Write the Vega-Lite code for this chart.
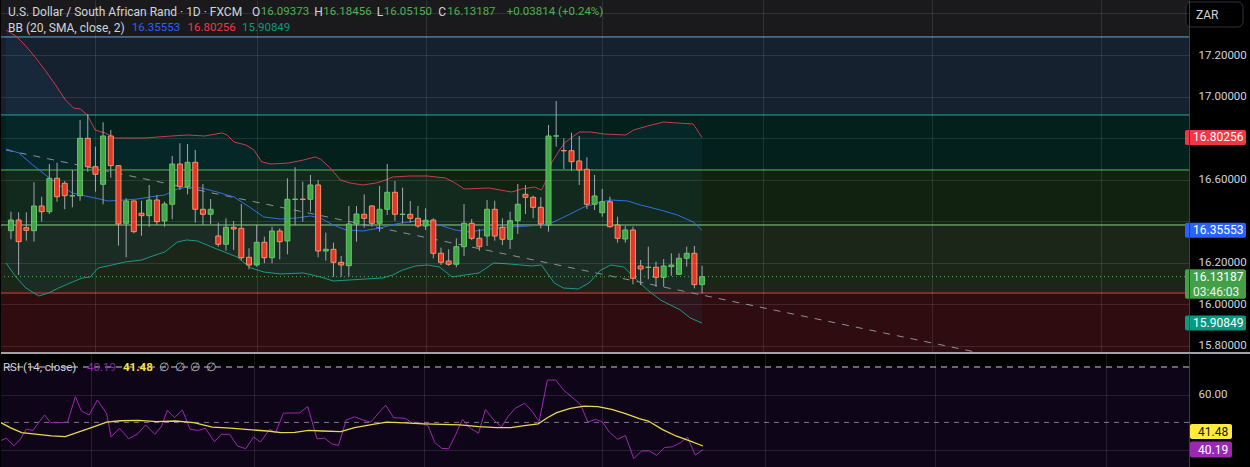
{
  "$schema": "https://vega.github.io/schema/vega-lite/v6.json",
  "background": "#000000",
  "padding": 0,
  "spacing": 0,
  "config": {
    "view": {"stroke": null},
    "axis": {"gridColor": "#ffffff", "gridOpacity": 0.1, "domainColor": "#3a3e48", "labelColor": "#d1d4dc", "labelFont": "Roboto", "labelFontSize": 11.5, "ticks": false},
    "text": {"font": "Roboto", "fontSize": 11.5}
  },
  "datasets": {
    "candles": [
      {"t":0,"open":16.3535,"high":16.4450,"low":16.3121,"close":16.4050},
      {"t":1,"open":16.4050,"high":16.4421,"low":16.1400,"close":16.3005},
      {"t":2,"open":16.3679,"high":16.4421,"low":16.3053,"close":16.3554},
      {"t":3,"open":16.3535,"high":16.5867,"low":16.3005,"close":16.4725},
      {"t":4,"open":16.4725,"high":16.5173,"low":16.3968,"close":16.4450},
      {"t":5,"open":16.4450,"high":16.6748,"low":16.4339,"close":16.6060},
      {"t":6,"open":16.6060,"high":16.6811,"low":16.4932,"close":16.5173},
      {"t":7,"open":16.5819,"high":16.5929,"low":16.4566,"close":16.5221},
      {"t":8,"open":16.5205,"high":16.6459,"low":16.4662,"close":16.5221},
      {"t":9,"open":16.5221,"high":16.8868,"low":16.4980,"close":16.7987},
      {"t":10,"open":16.7987,"high":16.9157,"low":16.6377,"close":16.6618},
      {"t":11,"open":16.6618,"high":16.7582,"low":16.5414,"close":16.6252},
      {"t":12,"open":16.5770,"high":16.8758,"low":16.4807,"close":16.8098},
      {"t":13,"open":16.8098,"high":16.8387,"low":16.6088,"close":16.6667},
      {"t":14,"open":16.6667,"high":16.6690,"low":16.2812,"close":16.3858},
      {"t":15,"open":16.3891,"high":16.5096,"low":16.2253,"close":16.4966},
      {"t":16,"open":16.4966,"high":16.5000,"low":16.3409,"close":16.3487},
      {"t":17,"open":16.4373,"high":16.4980,"low":16.3294,"close":16.4258},
      {"t":18,"open":16.4258,"high":16.5737,"low":16.3728,"close":16.5014},
      {"t":19,"open":16.5014,"high":16.5255,"low":16.3809,"close":16.3968},
      {"t":20,"open":16.4002,"high":16.4932,"low":16.3728,"close":16.4821},
      {"t":21,"open":16.4807,"high":16.7134,"low":16.4084,"close":16.6748},
      {"t":22,"open":16.6748,"high":16.7746,"low":16.5496,"close":16.5655},
      {"t":23,"open":16.5655,"high":16.7712,"low":16.5289,"close":16.6830},
      {"t":24,"open":16.6830,"high":16.7423,"low":16.3920,"close":16.4566},
      {"t":25,"open":16.4566,"high":16.5785,"low":16.3809,"close":16.4325},
      {"t":26,"open":16.4325,"high":16.5062,"low":16.3858,"close":16.4566},
      {"t":27,"open":16.3280,"high":16.3920,"low":16.2764,"close":16.2880},
      {"t":28,"open":16.2880,"high":16.4132,"low":16.2571,"close":16.3699},
      {"t":29,"open":16.3699,"high":16.4002,"low":16.2605,"close":16.3617},
      {"t":30,"open":16.3650,"high":16.4821,"low":16.2123,"close":16.2234},
      {"t":31,"open":16.2253,"high":16.2687,"low":16.1675,"close":16.1882},
      {"t":32,"open":16.1882,"high":16.3809,"low":16.1801,"close":16.2976},
      {"t":33,"open":16.2976,"high":16.3246,"low":16.1964,"close":16.2234},
      {"t":34,"open":16.2234,"high":16.3728,"low":16.1964,"close":16.3520},
      {"t":35,"open":16.3520,"high":16.3650,"low":16.2157,"close":16.3005},
      {"t":36,"open":16.3039,"high":16.6060,"low":16.2398,"close":16.5048},
      {"t":37,"open":16.5040,"high":16.6590,"low":16.3809,"close":16.5056},
      {"t":38,"open":16.5056,"high":16.5896,"low":16.3968,"close":16.5040},
      {"t":39,"open":16.5048,"high":16.6219,"low":16.4450,"close":16.5737},
      {"t":40,"open":16.5737,"high":16.5978,"low":16.2253,"close":16.2557},
      {"t":41,"open":16.2557,"high":16.3438,"low":16.2090,"close":16.2639},
      {"t":42,"open":16.2639,"high":16.2957,"low":16.1319,"close":16.2012},
      {"t":43,"open":16.2012,"high":16.2316,"low":16.1319,"close":16.1882},
      {"t":44,"open":16.1848,"high":16.4725,"low":16.1319,"close":16.3858},
      {"t":45,"open":16.3858,"high":16.4725,"low":16.3005,"close":16.4339},
      {"t":46,"open":16.4325,"high":16.5289,"low":16.3679,"close":16.4132},
      {"t":47,"open":16.4725,"high":16.4773,"low":16.3728,"close":16.3891},
      {"t":48,"open":16.3891,"high":16.5689,"low":16.3487,"close":16.4566},
      {"t":49,"open":16.4566,"high":16.6748,"low":16.4291,"close":16.5385},
      {"t":50,"open":16.5385,"high":16.5929,"low":16.4002,"close":16.4325},
      {"t":51,"open":16.4318,"high":16.5607,"low":16.3891,"close":16.4332},
      {"t":52,"open":16.4325,"high":16.4966,"low":16.3920,"close":16.4132},
      {"t":53,"open":16.4132,"high":16.4725,"low":16.3679,"close":16.3761},
      {"t":54,"open":16.3761,"high":16.4614,"low":16.3569,"close":16.4036},
      {"t":55,"open":16.4050,"high":16.4132,"low":16.2205,"close":16.2446},
      {"t":56,"open":16.2446,"high":16.2716,"low":16.1882,"close":16.2012},
      {"t":57,"open":16.2075,"high":16.2639,"low":16.1848,"close":16.1916},
      {"t":58,"open":16.1916,"high":16.3169,"low":16.1771,"close":16.2764},
      {"t":59,"open":16.2764,"high":16.4821,"low":16.2316,"close":16.3891},
      {"t":60,"open":16.3891,"high":16.4099,"low":16.3087,"close":16.3169},
      {"t":61,"open":16.3169,"high":16.3617,"low":16.2571,"close":16.2764},
      {"t":62,"open":16.3280,"high":16.5014,"low":16.2798,"close":16.4566},
      {"t":63,"open":16.4566,"high":16.4980,"low":16.3053,"close":16.3280},
      {"t":64,"open":16.3699,"high":16.4132,"low":16.2846,"close":16.3121},
      {"t":65,"open":16.3121,"high":16.4450,"low":16.2653,"close":16.4017},
      {"t":66,"open":16.4017,"high":16.5785,"low":16.3376,"close":16.4807},
      {"t":67,"open":16.5289,"high":16.5737,"low":16.4339,"close":16.5144},
      {"t":68,"open":16.5144,"high":16.5221,"low":16.4132,"close":16.4662},
      {"t":69,"open":16.4662,"high":16.5144,"low":16.3650,"close":16.3858},
      {"t":70,"open":16.3809,"high":16.8627,"low":16.3487,"close":16.8098},
      {"t":71,"open":16.8090,"high":16.9782,"low":16.7582,"close":16.8106},
      {"t":72,"open":16.7396,"high":16.7987,"low":16.6508,"close":16.7382},
      {"t":73,"open":16.7389,"high":16.8257,"low":16.6426,"close":16.6859},
      {"t":74,"open":16.6893,"high":16.8098,"low":16.5737,"close":16.6459},
      {"t":75,"open":16.6493,"high":16.7071,"low":16.4580,"close":16.4807},
      {"t":76,"open":16.4807,"high":16.6219,"low":16.4532,"close":16.5207},
      {"t":77,"open":16.4402,"high":16.5544,"low":16.4209,"close":16.4932},
      {"t":78,"open":16.4932,"high":16.5173,"low":16.3679,"close":16.3728},
      {"t":79,"open":16.3809,"high":16.4209,"low":16.2957,"close":16.3169},
      {"t":80,"open":16.3135,"high":16.3761,"low":16.2957,"close":16.3569},
      {"t":81,"open":16.3569,"high":16.3728,"low":16.0952,"close":16.1242},
      {"t":82,"open":16.1834,"high":16.2123,"low":16.0919,"close":16.1690},
      {"t":83,"open":16.1764,"high":16.2764,"low":16.1193,"close":16.1778},
      {"t":84,"open":16.1771,"high":16.2041,"low":16.0837,"close":16.1290},
      {"t":85,"open":16.1290,"high":16.2171,"low":16.0837,"close":16.1834},
      {"t":86,"open":16.1800,"high":16.2446,"low":16.1367,"close":16.1882},
      {"t":87,"open":16.1434,"high":16.2446,"low":16.1400,"close":16.2205},
      {"t":88,"open":16.2205,"high":16.2764,"low":16.1801,"close":16.2446},
      {"t":89,"open":16.2446,"high":16.2798,"low":16.0760,"close":16.09373},
      {"t":90,"open":16.09373,"high":16.18456,"low":16.05150,"close":16.13187}
    ],
    "bb": [
      {"band":"upper","t":-0.65,"p":17.3205},{"band":"upper","t":0.65,"p":17.2916},{"band":"upper","t":1.94,"p":17.2434},{"band":"upper","t":3.23,"p":17.1856},{"band":"upper","t":4.52,"p":17.1229},{"band":"upper","t":5.81,"p":17.0555},{"band":"upper","t":7.10,"p":16.9832},{"band":"upper","t":8.14,"p":16.9447},{"band":"upper","t":9.04,"p":16.9398},{"band":"upper","t":9.94,"p":16.9109},{"band":"upper","t":10.98,"p":16.8387},{"band":"upper","t":12.27,"p":16.8242},{"band":"upper","t":13.56,"p":16.8001},{"band":"upper","t":17.43,"p":16.8001},{"band":"upper","t":20.92,"p":16.8098},{"band":"upper","t":22.99,"p":16.8146},{"band":"upper","t":25.18,"p":16.8098},{"band":"upper","t":27.5,"p":16.8242},{"band":"upper","t":28.15,"p":16.8146},{"band":"upper","t":29.05,"p":16.7808},{"band":"upper","t":30.6,"p":16.7664},{"band":"upper","t":31.64,"p":16.7423},{"band":"upper","t":32.67,"p":16.6845},{"band":"upper","t":33.83,"p":16.6748},{"band":"upper","t":36.16,"p":16.6797},{"band":"upper","t":38.09,"p":16.6941},{"band":"upper","t":39.64,"p":16.7086},{"band":"upper","t":40.29,"p":16.6989},{"band":"upper","t":41.58,"p":16.6556},{"band":"upper","t":42.87,"p":16.5978},{"band":"upper","t":44.16,"p":16.5833},{"band":"upper","t":45.84,"p":16.5737},{"band":"upper","t":47.52,"p":16.5833},{"band":"upper","t":48.42,"p":16.5929},{"band":"upper","t":49.72,"p":16.6122},{"band":"upper","t":51.91,"p":16.6170},{"band":"upper","t":54.24,"p":16.6170},{"band":"upper","t":56.56,"p":16.6074},{"band":"upper","t":57.85,"p":16.5833},{"band":"upper","t":59.01,"p":16.5544},{"band":"upper","t":62.24,"p":16.5592},{"band":"upper","t":65.21,"p":16.5399},{"band":"upper","t":66.5,"p":16.5544},{"band":"upper","t":68.18,"p":16.5640},{"band":"upper","t":69.09,"p":16.5496},{"band":"upper","t":69.73,"p":16.5978},{"band":"upper","t":70.38,"p":16.6797},{"band":"upper","t":71.28,"p":16.7327},{"band":"upper","t":72.06,"p":16.7760},{"band":"upper","t":74.0,"p":16.8290},{"band":"upper","t":75.54,"p":16.8290},{"band":"upper","t":77.22,"p":16.8194},{"band":"upper","t":80.06,"p":16.8146},{"band":"upper","t":81.09,"p":16.8387},{"band":"upper","t":82.9,"p":16.8579},{"band":"upper","t":84.97,"p":16.8772},{"band":"upper","t":86.78,"p":16.8724},{"band":"upper","t":88.84,"p":16.8676},{"band":"upper","t":90.0,"p":16.80256},
      {"band":"basis","t":-0.65,"p":16.7471},{"band":"basis","t":1.03,"p":16.7279},{"band":"basis","t":2.84,"p":16.6700},{"band":"basis","t":4.52,"p":16.6218},{"band":"basis","t":6.2,"p":16.5737},{"band":"basis","t":8.01,"p":16.5351},{"band":"basis","t":9.69,"p":16.5207},{"band":"basis","t":10.98,"p":16.5110},{"band":"basis","t":12.66,"p":16.4966},{"band":"basis","t":14.85,"p":16.5014},{"band":"basis","t":16.53,"p":16.5062},{"band":"basis","t":18.08,"p":16.5159},{"band":"basis","t":20.02,"p":16.5255},{"band":"basis","t":21.69,"p":16.5544},{"band":"basis","t":22.99,"p":16.5640},{"band":"basis","t":24.79,"p":16.5592},{"band":"basis","t":26.86,"p":16.5399},{"band":"basis","t":29.05,"p":16.5159},{"band":"basis","t":31.25,"p":16.4628},{"band":"basis","t":32.93,"p":16.4195},{"band":"basis","t":35.12,"p":16.4098},{"band":"basis","t":37.19,"p":16.4147},{"band":"basis","t":39.0,"p":16.4243},{"band":"basis","t":40.29,"p":16.4147},{"band":"basis","t":41.97,"p":16.3809},{"band":"basis","t":43.65,"p":16.3569},{"band":"basis","t":45.84,"p":16.3520},{"band":"basis","t":48.04,"p":16.3665},{"band":"basis","t":50.1,"p":16.3858},{"band":"basis","t":52.69,"p":16.4002},{"band":"basis","t":54.24,"p":16.4002},{"band":"basis","t":56.17,"p":16.3761},{"band":"basis","t":57.85,"p":16.3569},{"band":"basis","t":59.66,"p":16.3472},{"band":"basis","t":62.24,"p":16.3617},{"band":"basis","t":64.82,"p":16.3713},{"band":"basis","t":67.41,"p":16.3761},{"band":"basis","t":69.09,"p":16.3809},{"band":"basis","t":70.38,"p":16.3906},{"band":"basis","t":72.57,"p":16.4291},{"band":"basis","t":74.64,"p":16.4677},{"band":"basis","t":76.83,"p":16.4917},{"band":"basis","t":78.12,"p":16.5014},{"band":"basis","t":80.32,"p":16.4966},{"band":"basis","t":82.0,"p":16.4773},{"band":"basis","t":84.58,"p":16.4532},{"band":"basis","t":86.78,"p":16.4291},{"band":"basis","t":88.84,"p":16.3954},{"band":"basis","t":90.0,"p":16.35553},
      {"band":"lower","t":-0.65,"p":16.1979},{"band":"lower","t":0.65,"p":16.1304},{"band":"lower","t":1.94,"p":16.0774},{"band":"lower","t":3.62,"p":16.0389},{"band":"lower","t":4.91,"p":16.0533},{"band":"lower","t":6.2,"p":16.0774},{"band":"lower","t":8.01,"p":16.1063},{"band":"lower","t":9.3,"p":16.1256},{"band":"lower","t":10.33,"p":16.1304},{"band":"lower","t":11.36,"p":16.1738},{"band":"lower","t":13.17,"p":16.1882},{"band":"lower","t":14.85,"p":16.2027},{"band":"lower","t":17.05,"p":16.2123},{"band":"lower","t":18.08,"p":16.2268},{"band":"lower","t":20.02,"p":16.2509},{"band":"lower","t":21.69,"p":16.2990},{"band":"lower","t":22.86,"p":16.3087},{"band":"lower","t":24.28,"p":16.3039},{"band":"lower","t":26.47,"p":16.2701},{"band":"lower","t":29.44,"p":16.2268},{"band":"lower","t":31.25,"p":16.1738},{"band":"lower","t":32.93,"p":16.1545},{"band":"lower","t":35.12,"p":16.1449},{"band":"lower","t":38.09,"p":16.1497},{"band":"lower","t":40.29,"p":16.1304},{"band":"lower","t":41.97,"p":16.1112},{"band":"lower","t":44.16,"p":16.1160},{"band":"lower","t":46.23,"p":16.1208},{"band":"lower","t":48.42,"p":16.1256},{"band":"lower","t":49.72,"p":16.1400},{"band":"lower","t":51.01,"p":16.1641},{"band":"lower","t":52.69,"p":16.1834},{"band":"lower","t":54.24,"p":16.1882},{"band":"lower","t":55.79,"p":16.1786},{"band":"lower","t":57.46,"p":16.1304},{"band":"lower","t":59.14,"p":16.1400},{"band":"lower","t":60.95,"p":16.1497},{"band":"lower","t":62.89,"p":16.1979},{"band":"lower","t":64.82,"p":16.1931},{"band":"lower","t":67.8,"p":16.1834},{"band":"lower","t":69.09,"p":16.1882},{"band":"lower","t":69.73,"p":16.1545},{"band":"lower","t":70.76,"p":16.1015},{"band":"lower","t":71.93,"p":16.0774},{"band":"lower","t":73.86,"p":16.0726},{"band":"lower","t":75.28,"p":16.1015},{"band":"lower","t":76.83,"p":16.1641},{"band":"lower","t":78.12,"p":16.1882},{"band":"lower","t":79.8,"p":16.1786},{"band":"lower","t":81.09,"p":16.1304},{"band":"lower","t":82.9,"p":16.0678},{"band":"lower","t":84.58,"p":16.0196},{"band":"lower","t":85.87,"p":15.9955},{"band":"lower","t":87.16,"p":15.9714},{"band":"lower","t":88.45,"p":15.9329},{"band":"lower","t":90.0,"p":15.90849}
    ],
    "bbfill": [
      {"t":-0.65,"up":17.3205,"lo":16.1979},{"t":0.65,"up":17.2916,"lo":16.1304},{"t":1.94,"up":17.2434,"lo":16.0774},{"t":3.4,"up":17.16,"lo":16.0389},{"t":4.9,"up":17.10,"lo":16.0533},{"t":6.2,"up":17.03,"lo":16.0774},{"t":8.1,"up":16.945,"lo":16.1063},{"t":9.3,"up":16.935,"lo":16.1256},{"t":10.33,"up":16.88,"lo":16.1304},{"t":11.36,"up":16.834,"lo":16.1738},{"t":13.17,"up":16.805,"lo":16.1882},{"t":14.85,"up":16.80,"lo":16.2027},{"t":17.05,"up":16.80,"lo":16.2123},{"t":18.08,"up":16.802,"lo":16.2268},{"t":20.02,"up":16.807,"lo":16.2509},{"t":21.69,"up":16.811,"lo":16.299},{"t":22.86,"up":16.814,"lo":16.3087},{"t":24.28,"up":16.811,"lo":16.3039},{"t":26.47,"up":16.818,"lo":16.2701},{"t":29.44,"up":16.777,"lo":16.2268},{"t":31.25,"up":16.758,"lo":16.1738},{"t":32.93,"up":16.682,"lo":16.1545},{"t":35.12,"up":16.677,"lo":16.1449},{"t":38.09,"up":16.694,"lo":16.1497},{"t":40.29,"up":16.699,"lo":16.1304},{"t":41.97,"up":16.64,"lo":16.1112},{"t":44.16,"up":16.583,"lo":16.116},{"t":46.23,"up":16.575,"lo":16.1208},{"t":48.42,"up":16.593,"lo":16.1256},{"t":49.72,"up":16.612,"lo":16.14},{"t":51.01,"up":16.615,"lo":16.1641},{"t":52.69,"up":16.617,"lo":16.1834},{"t":54.24,"up":16.617,"lo":16.1882},{"t":55.79,"up":16.611,"lo":16.1786},{"t":57.46,"up":16.59,"lo":16.1304},{"t":59.14,"up":16.554,"lo":16.14},{"t":60.95,"up":16.557,"lo":16.1497},{"t":62.89,"up":16.558,"lo":16.1979},{"t":64.82,"up":16.544,"lo":16.1931},{"t":67.8,"up":16.562,"lo":16.1834},{"t":69.09,"up":16.5496,"lo":16.1882},{"t":69.73,"up":16.5978,"lo":16.1545},{"t":70.76,"up":16.70,"lo":16.1015},{"t":71.93,"up":16.77,"lo":16.0774},{"t":73.86,"up":16.826,"lo":16.0726},{"t":75.28,"up":16.829,"lo":16.1015},{"t":76.83,"up":16.821,"lo":16.1641},{"t":78.12,"up":16.818,"lo":16.1882},{"t":79.8,"up":16.815,"lo":16.1786},{"t":81.09,"up":16.8387,"lo":16.1304},{"t":82.9,"up":16.8579,"lo":16.0678},{"t":84.58,"up":16.873,"lo":16.0196},{"t":85.87,"up":16.875,"lo":15.9955},{"t":87.16,"up":16.871,"lo":15.9714},{"t":88.45,"up":16.868,"lo":15.9329},{"t":90.0,"up":16.80256,"lo":15.90849}
    ],
    "zones": [
      {"zone":"z1","lo":16.911,"hi":17.287},
      {"zone":"z2","lo":16.646,"hi":16.911},
      {"zone":"z3","lo":16.381,"hi":16.646},
      {"zone":"z4","lo":16.053,"hi":16.381},
      {"zone":"z5","lo":15.6,"hi":16.053}
    ],
    "trend": [{"t":-0.646,"p":16.7423},{"t":130,"p":15.735}],
    "last": [
      {"series":"upper","value":16.80256},
      {"series":"basis","value":16.35553},
      {"series":"close","value":16.13187,"countdown":"03:46:03"},
      {"series":"lower","value":15.90849}
    ],
    "rsi": [
      {"t":-0.65,"r":43.5},{"t":0.07,"r":44.3},{"t":1.01,"r":41.5},{"t":1.84,"r":43.9},{"t":2.61,"r":47.5},{"t":3.5,"r":47.1},{"t":4.1,"r":49.5},{"t":4.99,"r":52.7},{"t":5.76,"r":49.9},{"t":6.77,"r":49.9},{"t":7.95,"r":50.1},{"t":8.96,"r":59.3},{"t":9.73,"r":54.1},{"t":10.74,"r":52.7},{"t":11.8,"r":58.1},{"t":12.99,"r":53.2},{"t":13.58,"r":44.7},{"t":14.65,"r":47.9},{"t":15.84,"r":44.1},{"t":17.02,"r":45.9},{"t":18.03,"r":49.1},{"t":19.22,"r":45.7},{"t":20.11,"r":48.7},{"t":20.82,"r":54.4},{"t":21.77,"r":51.7},{"t":22.77,"r":54.5},{"t":23.78,"r":47.5},{"t":24.85,"r":47.1},{"t":25.74,"r":47.9},{"t":26.92,"r":43.0},{"t":27.81,"r":45.7},{"t":28.88,"r":45.7},{"t":29.89,"r":41.5},{"t":30.96,"r":40.5},{"t":31.96,"r":44.7},{"t":32.85,"r":42.9},{"t":34.04,"r":47.5},{"t":34.81,"r":46.3},{"t":35.82,"r":53.3},{"t":36.71,"r":53.4},{"t":37.89,"r":53.4},{"t":38.96,"r":55.7},{"t":40.15,"r":44.1},{"t":41.15,"r":44.3},{"t":42.04,"r":42.3},{"t":42.93,"r":41.7},{"t":43.94,"r":50.9},{"t":45.01,"r":52.0},{"t":46.02,"r":50.9},{"t":47.08,"r":50.1},{"t":48.09,"r":53.3},{"t":49.04,"r":56.2},{"t":50.05,"r":51.7},{"t":51.53,"r":51.5},{"t":52.6,"r":49.5},{"t":53.6,"r":49.9},{"t":54.5,"r":48.7},{"t":55.38,"r":42.7},{"t":56.27,"r":40.6},{"t":57.16,"r":40.5},{"t":58.05,"r":45.5},{"t":58.94,"r":51.1},{"t":59.95,"r":47.9},{"t":61.02,"r":46.1},{"t":61.91,"r":54.7},{"t":62.91,"r":51.1},{"t":63.98,"r":48.3},{"t":64.87,"r":52.3},{"t":65.76,"r":55.1},{"t":66.95,"r":56.9},{"t":67.83,"r":54.4},{"t":68.84,"r":50.3},{"t":69.91,"r":65.3},{"t":70.98,"r":65.3},{"t":71.99,"r":61.7},{"t":73.17,"r":58.9},{"t":74.18,"r":56.5},{"t":75.13,"r":50.1},{"t":76.14,"r":51.1},{"t":77.03,"r":50.1},{"t":77.91,"r":46.5},{"t":78.98,"r":43.9},{"t":79.99,"r":45.3},{"t":81.06,"r":36.9},{"t":82.06,"r":39.7},{"t":83.07,"r":39.7},{"t":84.02,"r":38.1},{"t":85.03,"r":40.9},{"t":86.04,"r":41.2},{"t":87.11,"r":42.7},{"t":88.0,"r":44.7},{"t":89.0,"r":38.2},{"t":90.0,"r":40.19}
    ],
    "rsima": [
      {"t":-0.65,"r":49.9},{"t":0.54,"r":48.1},{"t":2.02,"r":46.3},{"t":4.1,"r":45.7},{"t":5.88,"r":45.1},{"t":7.65,"r":44.85},{"t":9.14,"r":46.3},{"t":11.21,"r":48.3},{"t":12.99,"r":50.1},{"t":14.77,"r":50.6},{"t":17.14,"r":50.75},{"t":19.51,"r":50.3},{"t":21.88,"r":50.5},{"t":24.26,"r":49.9},{"t":26.63,"r":48.3},{"t":29.0,"r":47.9},{"t":31.37,"r":47.4},{"t":33.74,"r":46.9},{"t":35.52,"r":46.3},{"t":37.3,"r":46.4},{"t":39.08,"r":47.1},{"t":40.86,"r":46.9},{"t":43.23,"r":46.65},{"t":45.01,"r":48.1},{"t":47.38,"r":49.3},{"t":49.16,"r":50.1},{"t":51.53,"r":49.8},{"t":53.9,"r":49.5},{"t":56.27,"r":49.3},{"t":58.64,"r":49.1},{"t":61.02,"r":48.5},{"t":63.39,"r":48.1},{"t":65.17,"r":48.1},{"t":66.95,"r":48.8},{"t":68.72,"r":49.5},{"t":69.91,"r":51.7},{"t":71.1,"r":53.5},{"t":72.87,"r":55.1},{"t":74.65,"r":55.9},{"t":76.43,"r":55.7},{"t":78.21,"r":54.7},{"t":79.99,"r":53.2},{"t":81.77,"r":51.35},{"t":82.95,"r":50.5},{"t":84.73,"r":47.5},{"t":86.51,"r":45.1},{"t":88.29,"r":43.3},{"t":90.0,"r":41.48}
    ],
    "rsilast": [
      {"series":"ma","value":41.48},
      {"series":"rsi","value":40.19}
    ],
    "one": [{}]
  },
  "vconcat": [
    {
      "width": 1188,
      "height": 352,
      "view": {"fill": "#1a1a1c"},
      "resolve": {"scale": {"fill": "independent", "stroke": "independent", "color": "independent"}},
      "layer": [
        {
          "data": {"name": "zones"},
          "mark": {"type": "rect", "clip": true},
          "encoding": {
            "y": {"field": "hi", "type": "quantitative", "title": null,
              "scale": {"domain": [15.769, 17.465], "nice": false, "zero": false},
              "axis": {"orient": "right", "values": [17.4, 17.2, 17.0, 16.8, 16.6, 16.4, 16.2, 16.0, 15.8], "format": ".5f",
                "labelExpr": "(datum.value > 17.3 || abs(datum.value - 16.8) < 0.01 || abs(datum.value - 16.4) < 0.01) ? '' : datum.label",
                "grid": true, "domain": true, "labelPadding": 9, "zindex": 1, "labelOverlap": false, "labelFlush": false}},
            "y2": {"field": "lo"},
            "fill": {"field": "zone", "type": "nominal", "legend": null,
              "scale": {"domain": ["z1", "z2", "z3", "z4", "z5"], "range": ["#16212f", "#04201c", "#112210", "#1b2619", "#2e0c10"]}}
          }
        },
        {
          "data": {"name": "bbfill"},
          "mark": {"type": "area", "fill": "#2196f3", "fillOpacity": 0.06, "clip": true},
          "encoding": {
            "x": {"field": "t", "type": "quantitative", "title": null,
              "scale": {"domain": [-0.646, 152.76], "nice": false, "zero": false},
              "axis": {"values": [11, 32, 54, 77, 98, 120, 142], "labels": false, "ticks": false, "domain": false, "grid": true, "zindex": 1}},
            "y": {"field": "up", "type": "quantitative"},
            "y2": {"field": "lo"}
          }
        },
        {
          "data": {"name": "zones"},
          "mark": {"type": "rule", "strokeWidth": 1},
          "encoding": {
            "y": {"field": "hi", "type": "quantitative"},
            "stroke": {"field": "zone", "type": "nominal", "legend": null,
              "scale": {"domain": ["z1", "z2", "z3", "z4", "z5"], "range": ["#64a6d8", "#26a69a", "#5cb85c", "#8fd18a", "#f23645"]}}
          }
        },
        {
          "data": {"name": "trend"},
          "mark": {"type": "line", "color": "#8d9099", "strokeWidth": 1, "strokeDash": [7, 7], "clip": true},
          "encoding": {
            "x": {"field": "t", "type": "quantitative"},
            "y": {"field": "p", "type": "quantitative"}
          }
        },
        {
          "data": {"name": "bb"},
          "mark": {"type": "line", "strokeWidth": 1, "clip": true},
          "encoding": {
            "x": {"field": "t", "type": "quantitative"},
            "y": {"field": "p", "type": "quantitative"},
            "color": {"field": "band", "type": "nominal", "legend": null,
              "scale": {"domain": ["upper", "basis", "lower"], "range": ["#c2404c", "#2f6fe8", "#1b9a83"]}}
          }
        },
        {
          "data": {"name": "last"},
          "transform": [{"filter": "datum.series == 'close'"}],
          "mark": {"type": "rule", "color": "#4caf50", "strokeWidth": 1, "strokeDash": [1, 3]},
          "encoding": {"y": {"field": "value", "type": "quantitative"}}
        },
        {
          "data": {"name": "candles"},
          "mark": {"type": "rule", "color": "#a3a6af", "strokeWidth": 1, "clip": true},
          "encoding": {
            "x": {"field": "t", "type": "quantitative"},
            "y": {"field": "low", "type": "quantitative"},
            "y2": {"field": "high"}
          }
        },
        {
          "data": {"name": "candles"},
          "mark": {"type": "bar", "size": 5, "strokeWidth": 1, "clip": true},
          "encoding": {
            "x": {"field": "t", "type": "quantitative"},
            "y": {"field": "open", "type": "quantitative"},
            "y2": {"field": "close"},
            "fill": {"condition": {"test": "datum.close >= datum.open", "value": "#43a548"}, "value": "#e0392b"},
            "stroke": {"condition": {"test": "datum.close >= datum.open", "value": "#66c46a"}, "value": "#f39467"}
          }
        },
        {"data": {"name": "one"}, "mark": {"type": "text", "text": "U.S. Dollar / South African Rand · 1D · FXCM", "align": "left", "baseline": "middle", "color": "#d1d4dc", "fontSize": 12},
         "encoding": {"x": {"datum": -0.39}, "y": {"datum": 17.4072}}},
        {"data": {"name": "one"}, "mark": {"type": "text", "text": "O", "align": "left", "baseline": "middle", "color": "#d1d4dc", "fontSize": 12},
         "encoding": {"x": {"datum": 31.38}, "y": {"datum": 17.4072}}},
        {"data": {"name": "one"}, "mark": {"type": "text", "text": "16.09373", "align": "left", "baseline": "middle", "color": "#4caf50"},
         "encoding": {"x": {"datum": 32.54}, "y": {"datum": 17.4072}}},
        {"data": {"name": "one"}, "mark": {"type": "text", "text": "H", "align": "left", "baseline": "middle", "color": "#d1d4dc", "fontSize": 12},
         "encoding": {"x": {"datum": 39.51}, "y": {"datum": 17.4072}}},
        {"data": {"name": "one"}, "mark": {"type": "text", "text": "16.18456", "align": "left", "baseline": "middle", "color": "#4caf50"},
         "encoding": {"x": {"datum": 40.68}, "y": {"datum": 17.4072}}},
        {"data": {"name": "one"}, "mark": {"type": "text", "text": "L", "align": "left", "baseline": "middle", "color": "#d1d4dc", "fontSize": 12},
         "encoding": {"x": {"datum": 47.65}, "y": {"datum": 17.4072}}},
        {"data": {"name": "one"}, "mark": {"type": "text", "text": "16.05150", "align": "left", "baseline": "middle", "color": "#4caf50"},
         "encoding": {"x": {"datum": 48.55}, "y": {"datum": 17.4072}}},
        {"data": {"name": "one"}, "mark": {"type": "text", "text": "C", "align": "left", "baseline": "middle", "color": "#d1d4dc", "fontSize": 12},
         "encoding": {"x": {"datum": 55.66}, "y": {"datum": 17.4072}}},
        {"data": {"name": "one"}, "mark": {"type": "text", "text": "16.13187", "align": "left", "baseline": "middle", "color": "#4caf50"},
         "encoding": {"x": {"datum": 56.82}, "y": {"datum": 17.4072}}},
        {"data": {"name": "one"}, "mark": {"type": "text", "text": "+0.03814 (+0.24%)", "align": "left", "baseline": "middle", "color": "#4caf50"},
         "encoding": {"x": {"datum": 64.57}, "y": {"datum": 17.4072}}},
        {"data": {"name": "one"}, "mark": {"type": "text", "text": "BB (20, SMA, close, 2)", "align": "left", "baseline": "middle", "color": "#d1d4dc", "fontSize": 12},
         "encoding": {"x": {"datum": -0.39}, "y": {"datum": 17.3301}}},
        {"data": {"name": "one"}, "mark": {"type": "text", "text": "16.35553", "align": "left", "baseline": "middle", "color": "#2962ff"},
         "encoding": {"x": {"datum": 15.75}, "y": {"datum": 17.3301}}},
        {"data": {"name": "one"}, "mark": {"type": "text", "text": "16.80256", "align": "left", "baseline": "middle", "color": "#f23645"},
         "encoding": {"x": {"datum": 22.99}, "y": {"datum": 17.3301}}},
        {"data": {"name": "one"}, "mark": {"type": "text", "text": "15.90849", "align": "left", "baseline": "middle", "color": "#089981"},
         "encoding": {"x": {"datum": 30.09}, "y": {"datum": 17.3301}}},
        {
          "data": {"name": "last"},
          "transform": [{"filter": "datum.series != 'close'"}],
          "mark": {"type": "rect", "clip": false, "xOffset": 1, "x2Offset": 62, "yOffset": -7.5, "y2Offset": 7.5, "cornerRadius": 2},
          "encoding": {
            "x": {"datum": 152.76}, "x2": {"datum": 152.76},
            "y": {"field": "value", "type": "quantitative"}, "y2": {"field": "value"},
            "fill": {"field": "series", "type": "nominal", "legend": null,
              "scale": {"domain": ["upper", "basis", "close", "lower"], "range": ["#f23645", "#2962ff", "#43a047", "#089981"]}}
          }
        },
        {
          "data": {"name": "last"},
          "transform": [{"filter": "datum.series == 'close'"}],
          "mark": {"type": "rect", "clip": false, "xOffset": 1, "x2Offset": 62, "yOffset": -7.5, "y2Offset": 22, "cornerRadius": 2, "fill": "#43a047"},
          "encoding": {
            "x": {"datum": 152.76}, "x2": {"datum": 152.76},
            "y": {"field": "value", "type": "quantitative"}, "y2": {"field": "value"}
          }
        },
        {
          "data": {"name": "last"},
          "mark": {"type": "text", "align": "left", "baseline": "middle", "dx": 9, "color": "#ffffff", "fontSize": 12},
          "encoding": {
            "x": {"datum": 152.76},
            "y": {"field": "value", "type": "quantitative"},
            "text": {"field": "value", "type": "quantitative", "format": ".5f"}
          }
        },
        {
          "data": {"name": "last"},
          "transform": [{"filter": "datum.series == 'close'"}],
          "mark": {"type": "text", "align": "left", "baseline": "middle", "dx": 9, "dy": 15, "color": "#e8f5e9", "fontSize": 12},
          "encoding": {
            "x": {"datum": 152.76},
            "y": {"field": "value", "type": "quantitative"},
            "text": {"field": "countdown", "type": "nominal"}
          }
        },
        {
          "data": {"name": "one"},
          "mark": {"type": "rect", "clip": false, "xOffset": 2, "x2Offset": 59, "cornerRadius": 5, "fill": "#000000", "stroke": "#2f323b", "strokeWidth": 1},
          "encoding": {"x": {"datum": 152.76}, "x2": {"datum": 152.76}, "y": {"datum": 17.4554}, "y2": {"datum": 17.335}}
        },
        {
          "data": {"name": "one"},
          "mark": {"type": "text", "text": "ZAR", "align": "left", "baseline": "middle", "dx": 12, "color": "#d1d4dc", "fontSize": 12},
          "encoding": {"x": {"datum": 152.76}, "y": {"datum": 17.3927}}
        }
      ]
    },
    {
      "width": 1188,
      "height": 115,
      "layer": [
        {
          "data": {"name": "one"},
          "mark": {"type": "rect", "clip": true, "fill": "#0f0519"},
          "encoding": {"y": {"datum": 70}, "y2": {"datum": 20}}
        },
        {
          "data": {"name": "one"},
          "mark": {"type": "rule", "color": "#c9ccd4", "strokeWidth": 1, "strokeDash": [6, 5]},
          "encoding": {"y": {"datum": 70}}
        },
        {
          "data": {"name": "one"},
          "mark": {"type": "rule", "color": "#787b86", "strokeWidth": 1, "strokeDash": [5, 5]},
          "encoding": {"y": {"datum": 50}}
        },
        {
          "data": {"name": "rsi"},
          "mark": {"type": "line", "color": "#9c27b0", "strokeWidth": 1, "clip": true},
          "encoding": {
            "x": {"field": "t", "type": "quantitative", "title": null,
              "scale": {"domain": [-0.646, 152.76], "nice": false, "zero": false},
              "axis": {"values": [11, 32, 54, 77, 98, 120, 142], "labels": false, "ticks": false, "domain": false, "grid": true, "zindex": 1}},
            "y": {"field": "r", "type": "quantitative", "title": null,
              "scale": {"domain": [33.54, 75.05], "nice": false, "zero": false},
              "axis": {"orient": "right", "values": [60, 40], "format": ".2f", "labelExpr": "datum.value == 60 ? datum.label : ''",
                "grid": true, "domain": true, "labelPadding": 9, "zindex": 1, "labelOverlap": false, "labelFlush": false}}
          }
        },
        {
          "data": {"name": "rsima"},
          "mark": {"type": "line", "color": "#e8d84a", "strokeWidth": 1.3, "clip": true},
          "encoding": {
            "x": {"field": "t", "type": "quantitative"},
            "y": {"field": "r", "type": "quantitative"}
          }
        },
        {
          "data": {"name": "one"},
          "mark": {"type": "rule", "color": "#d6d8de", "strokeWidth": 1.5, "clip": false},
          "encoding": {"x": {"datum": -0.646}, "x2": {"datum": 161}, "y": {"datum": 75.05}}
        },
        {"data": {"name": "one"}, "mark": {"type": "text", "text": "RSI (14, close)", "align": "left", "baseline": "middle", "color": "#d1d4dc"},
         "encoding": {"x": {"datum": -0.39}, "y": {"datum": 69.63}}},
        {"data": {"name": "one"}, "mark": {"type": "text", "text": "40.19", "align": "left", "baseline": "middle", "color": "#8e24aa"},
         "encoding": {"x": {"datum": 10.46}, "y": {"datum": 69.63}}},
        {"data": {"name": "one"}, "mark": {"type": "text", "text": "41.48", "align": "left", "baseline": "middle", "color": "#f5e23c", "fontWeight": "bold"},
         "encoding": {"x": {"datum": 15.11}, "y": {"datum": 69.63}}},
        {"data": {"name": "one"}, "mark": {"type": "text", "text": "∅ \u00a0∅ \u00a0∅ \u00a0∅", "align": "left", "baseline": "middle", "color": "#b2b5be"},
         "encoding": {"x": {"datum": 19.76}, "y": {"datum": 69.63}}},
        {
          "data": {"name": "rsilast"},
          "transform": [{"filter": "datum.series == 'ma'"}],
          "mark": {"type": "rect", "clip": false, "xOffset": 1, "x2Offset": 43, "yOffset": -22, "y2Offset": -7, "cornerRadius": 2, "fill": "#ffeb3b"},
          "encoding": {"x": {"datum": 152.76}, "x2": {"datum": 152.76}, "y": {"field": "value", "type": "quantitative"}, "y2": {"field": "value"}}
        },
        {
          "data": {"name": "rsilast"},
          "transform": [{"filter": "datum.series == 'ma'"}],
          "mark": {"type": "text", "align": "left", "baseline": "middle", "dx": 9, "dy": -14.5, "color": "#131722", "fontSize": 12},
          "encoding": {"x": {"datum": 152.76}, "y": {"field": "value", "type": "quantitative"}, "text": {"field": "value", "type": "quantitative", "format": ".2f"}}
        },
        {
          "data": {"name": "rsilast"},
          "transform": [{"filter": "datum.series == 'rsi'"}],
          "mark": {"type": "rect", "clip": false, "xOffset": 1, "x2Offset": 43, "yOffset": -8, "y2Offset": 8, "cornerRadius": 2, "fill": "#9c27b0"},
          "encoding": {"x": {"datum": 152.76}, "x2": {"datum": 152.76}, "y": {"field": "value", "type": "quantitative"}, "y2": {"field": "value"}}
        },
        {
          "data": {"name": "rsilast"},
          "transform": [{"filter": "datum.series == 'rsi'"}],
          "mark": {"type": "text", "align": "left", "baseline": "middle", "dx": 9, "color": "#ffffff", "fontSize": 12},
          "encoding": {"x": {"datum": 152.76}, "y": {"field": "value", "type": "quantitative"}, "text": {"field": "value", "type": "quantitative", "format": ".2f"}}
        }
      ]
    }
  ]
}
